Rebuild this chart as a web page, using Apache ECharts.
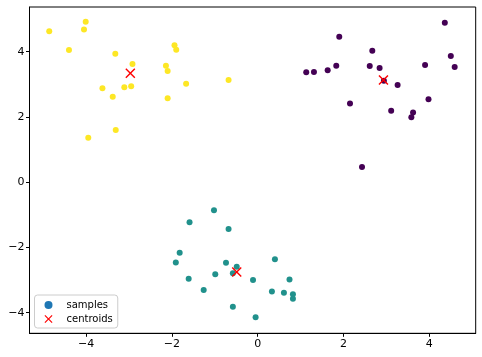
<!DOCTYPE html>
<html><head><meta charset="utf-8">
<script src="https://cdn.jsdelivr.net/npm/echarts@6/dist/echarts.min.js"></script>
<style>html,body{margin:0;padding:0;background:#fff}#c{width:482px;height:357px}</style>
</head><body><div id="c"></div>
<script>
// cluster 0 (purple)
const purpleX = [4.36,1.90,2.67,4.50,4.59,3.90,1.13,1.31,1.63,1.83,2.61,2.84,2.94,3.26,3.98,2.15,3.11,3.62,3.58,2.43];
const purpleY = [4.89,4.46,4.03,3.87,3.53,3.59,3.37,3.38,3.43,3.57,3.56,3.50,3.11,2.98,2.54,2.41,2.19,2.14,1.99,0.47];
// cluster 1 (teal)
const tealX = [-1.02,-1.59,-0.68,-1.82,-1.91,-1.61,-1.26,-0.99,-0.74,-0.58,-0.49,-0.58,0.40,-0.11,0.74,0.33,0.61,0.82,0.82,-0.05];
const tealY = [-0.86,-1.23,-1.43,-2.16,-2.46,-2.96,-3.30,-2.82,-2.47,-2.79,-2.59,-3.82,-2.36,-3.00,-2.98,-3.35,-3.39,-3.43,-3.57,-4.14];
// cluster 2 (yellow)
const yellowX = [-4.86,-4.01,-4.05,-4.40,-3.32,-2.92,-2.14,-2.10,-1.94,-1.90,-1.67,-0.68,-3.62,-3.38,-3.11,-2.95,-2.10,-3.31,-3.95];
const yellowY = [4.63,4.92,4.68,4.05,3.94,3.62,3.57,3.41,4.20,4.06,3.02,3.13,2.88,2.62,2.91,2.94,2.57,1.60,1.36];
// centroids
const centroidX = [2.93,-0.49,-2.97];
const centroidY = [3.13,-2.75,3.34];
const xTicks = [-4,-2,0,2,4];
const yTicks = [-4,-2,0,2,4];
const clusterColors = ['#440154','#21918c','#fde725'];

function pts(xs, ys, color){ return xs.map((x,i)=>({value:[x,ys[i]], itemStyle:{color:color}})); }
const samples = [].concat(pts(purpleX,purpleY,clusterColors[0]), pts(tealX,tealY,clusterColors[1]), pts(yellowX,yellowY,clusterColors[2]));
const cents = centroidX.map((x,i)=>[x,centroidY[i]]);
const X = 'path://M0,1L1,0L5,4L9,0L10,1L6,5L10,9L9,10L5,6L1,10L0,9L4,5Z';
const fmt = v => String(v).replace('-', '\u2212');
const font = 'DejaVu Sans';
const chart = echarts.init(document.getElementById('c'));
chart.setOption({
  animation:false,
  grid:{left:29.5,right:6.3,top:7,bottom:23.7,show:true,borderColor:'#000',borderWidth:1,containLabel:false},
  xAxis:{type:'value',min:-5.32,max:5.08,
    axisLine:{show:true,onZero:false,lineStyle:{color:'#000'}},
    axisTick:{show:true,length:3.5,lineStyle:{color:'#000'},customValues:xTicks},
    axisLabel:{customValues:xTicks,formatter:fmt,color:'#000',fontFamily:font,fontSize:11,margin:5,showMinLabel:true,showMaxLabel:true},
    splitLine:{show:false}},
  yAxis:{type:'value',min:-4.63,max:5.37,
    axisLine:{show:true,onZero:false,lineStyle:{color:'#000'}},
    axisTick:{show:true,length:3.5,lineStyle:{color:'#000'},customValues:yTicks},
    axisLabel:{customValues:yTicks,formatter:fmt,color:'#000',fontFamily:font,fontSize:11,margin:5},
    splitLine:{show:false}},
  legend:{orient:'vertical',left:34.5,top:295,itemWidth:8,itemHeight:8,itemGap:2,
    padding:[4,5,3,10],borderColor:'#ccc',borderWidth:1,borderRadius:3,backgroundColor:'#fff',
    textStyle:{fontFamily:font,fontSize:10,color:'#000',padding:[0,0,0,9],lineHeight:12},
    data:[{name:'samples',icon:'circle',itemStyle:{color:'#1f77b4'}},{name:'centroids',icon:X,itemStyle:{color:'red'}}]},
  series:[
    {name:'samples',type:'scatter',symbolSize:6,itemStyle:{color:'#1f77b4',opacity:1},data:samples,z:2},
    {name:'centroids',type:'scatter',symbol:X,symbolSize:10,itemStyle:{color:'red',opacity:1},data:cents,z:3}
  ]
});
</script></body></html>
